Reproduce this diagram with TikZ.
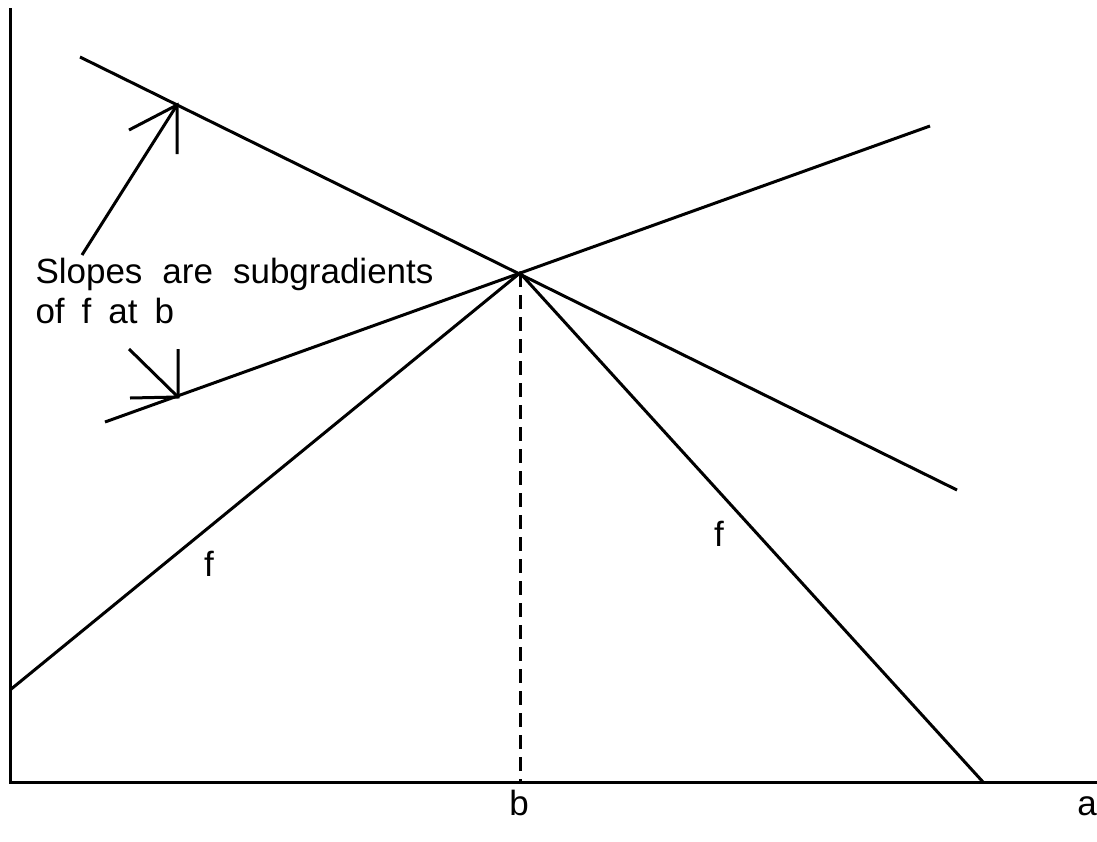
\documentclass[tikz,border=0pt]{standalone}
\usepackage{fontspec}
\setmainfont{Liberation Sans}
\begin{document}
\begin{tikzpicture}[x=0.5pt,y=-0.5pt, line width=1.5pt,
  lbl/.style={inner sep=0pt, font=\fontsize{17.5}{21}\selectfont}]
\useasboundingbox (0,0) rectangle (1097,841);
% axes and points
\coordinate (O) at (10,782);
\coordinate (Ytop) at (10,8);
\coordinate (Xend) at (1097,782);
\coordinate (B) at (520,273);
\coordinate (Bx) at (520,782);
\coordinate (FL) at (10,690);
\coordinate (FR) at (983,782);
\coordinate (S1a) at (80,57);
\coordinate (S1b) at (957,490);
\coordinate (S2a) at (105,422);
\coordinate (S2b) at (930,126);
\coordinate (T1) at (177,105);
\coordinate (T2) at (178,397);
\coordinate (A1s) at (82,255);
\coordinate (A1l) at (129,130);
\coordinate (A1v) at (177,154);
\coordinate (A2s) at (129,349);
\coordinate (A2v) at (178,349);
\coordinate (A2h) at (130,398);
% drawing
\draw (Ytop) -- (O) -- (Xend);
\draw (FL) -- (B) -- (FR);
\draw (S1a) -- (S1b);
\draw (S2a) -- (S2b);
\draw[dash pattern=on 7pt off 4pt] (B) -- (Bx);
\draw (A1s) -- (T1);
\draw (A1l) -- (T1) -- (A1v);
\draw (A2s) -- (T2);
\draw (A2v) -- (T2) -- (A2h);
% labels
\node[lbl, anchor=base west] (L1) at (34,283) {\spaceskip=10pt Slopes are subgradients};
\node[lbl, anchor=base west] (L2) at (34,323) {\spaceskip=8.5pt of f at b};
\node[lbl] (fl) at (209,564) {f};
\node[lbl] (fr) at (719,534) {f};
\node[lbl, anchor=base] (lb) at (519,815) {b};
\node[lbl, anchor=base] (la) at (1087,815) {a};
\end{tikzpicture}
\end{document}
